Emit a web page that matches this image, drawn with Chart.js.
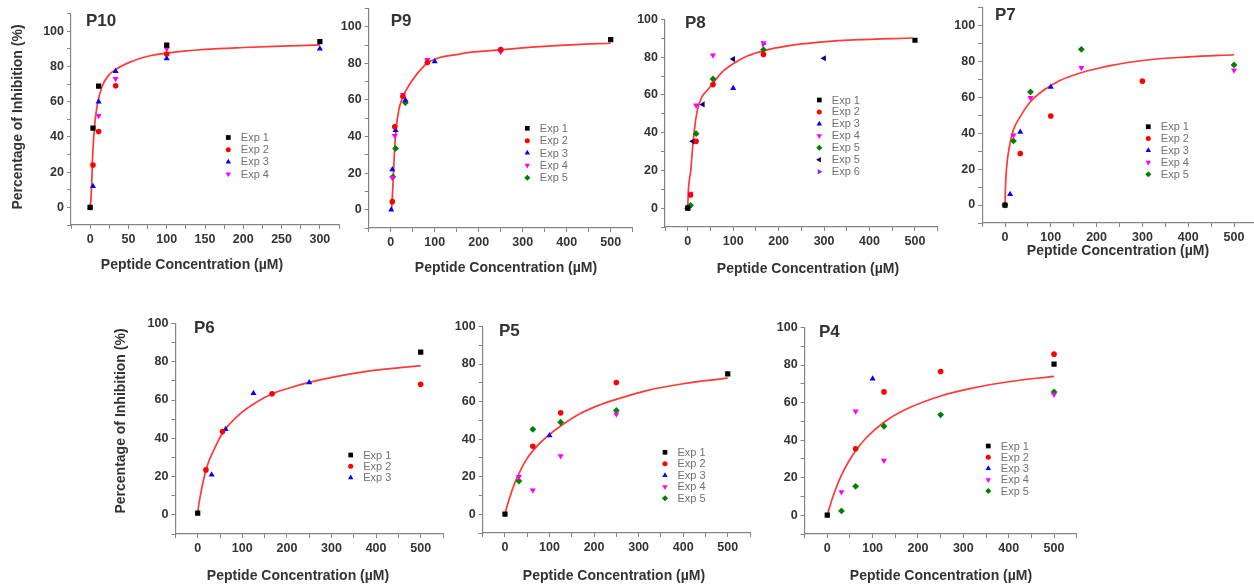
<!DOCTYPE html>
<html>
<head>
<meta charset="utf-8">
<script src="https://cdn.jsdelivr.net/npm/chart.js@4.4.1/dist/chart.umd.min.js"></script>
<style>
html, body { margin: 0; padding: 0; background: #fff; }
body { position: relative; width: 1254px; height: 588px; overflow: hidden; }
.painel { position: absolute; }
</style>
</head>
<body>
<script>
// ================================================================
// CURVAS DE INIBIÇÃO — P10 ... P4
// ================================================================

// ── Pontos experimentais [concentração µM, % inibição] ──────────
const p10_exp1 = [[0, 0], [3.7, 45], [11.1, 68.8], [100, 92], [300, 94]];
const p10_exp2 = [[3.7, 24], [11.1, 43], [33.3, 69], [100, 87]];
const p10_exp3 = [[0, 0], [3.7, 12], [11.1, 60], [33.3, 77.3], [100, 84.5], [300, 90]];
const p10_exp4 = [[0, 0], [11.1, 52], [33.3, 73], [100, 90]];

const p9_exp1 = [[500, 93]];
const p9_exp2 = [[3.7, 4.4], [9.3, 45.3], [27.8, 62], [83.3, 80.5], [250, 87.5]];
const p9_exp3 = [[1.2, 0], [3.7, 22], [11.1, 43.5], [33.3, 60], [100, 81]];
const p9_exp4 = [[3.7, 17.5], [9.3, 40.5], [27.8, 62.8], [83.3, 82], [250, 86.3]];
const p9_exp5 = [[5, 18], [11.1, 33.5], [33.3, 58.5]];

const p8_exp1  = [[0, 0], [500, 89]];
const p8_exp2  = [[6.2, 7], [18.5, 35.4], [55.6, 65.5], [166.7, 81.5]];
const p8_exp3  = [[0, 0], [100, 63.5]];
const p8_exp4  = [[6.2, 7.8], [18.5, 54.6], [55.6, 81], [166.7, 87.6]];
const p8_exp5  = [[6.2, 1.5], [18.5, 39.5], [55.6, 68.5], [166.7, 84]];
const p8_exp5b = [[0, 0], [11.1, 35.4], [33.3, 55], [100, 79], [300, 79.5]];
const p8_exp6  = [[0, 0.3], [166.7, 87]];

const p7_exp1 = [[0, 0]];
const p7_exp2 = [[33.3, 28.7], [100, 49.6], [300, 69]];
const p7_exp3 = [[11.1, 6], [33.3, 40.7], [100, 65.7]];
const p7_exp4 = [[18.5, 38.9], [55.6, 59.7], [166.7, 76.5], [500, 75]];
const p7_exp5 = [[0, 0], [18.5, 35.7], [55.6, 63], [166.7, 86.7], [500, 78]];

const p6_exp1 = [[0, 0.9], [500, 85]];
const p6_exp2 = [[18.5, 23.5], [55.6, 43.5], [166.7, 63.3], [500, 68.2]];
const p6_exp3 = [[31.25, 21], [62.5, 44.8], [125, 63.5], [250, 69.2]];

const p5_exp1 = [[0, 0], [500, 74.8]];
const p5_exp2 = [[62.5, 36.2], [125, 54], [250, 70.2]];
const p5_exp3 = [[100, 42]];
const p5_exp4 = [[31.25, 19.9], [62.5, 12.8], [125, 31], [250, 53.2]];
const p5_exp5 = [[31.25, 17.7], [62.5, 45.2], [125, 49], [250, 55.3]];

const p4_exp1 = [[0, 0], [500, 80.5]];
const p4_exp2 = [[62.5, 35.4], [125, 65.7], [250, 76.6], [500, 85.8]];
const p4_exp3 = [[100, 72.7]];
const p4_exp4 = [[31.25, 12.4], [62.5, 55.4], [125, 29.2], [500, 64.3]];
const p4_exp5 = [[31.25, 2.3], [62.5, 15.4], [125, 47.4], [250, 53.5], [500, 65.7]];

// ── Curvas ajustadas ─────────────────────────────────────────────
const p10_ajuste_x = [0, 0.9, 2.2, 3, 4.4, 6.5, 9.6, 15.2, 24, 35, 52, 74, 100, 150, 200, 250, 300];
const p10_ajuste_y = [0, 4, 15.3, 26.7, 38, 49.3, 58.8, 68.2, 74.9, 78.7, 82.4, 85.6, 87.5, 89.6, 90.7, 91.5, 92.2];
const p9_ajuste_x  = [2, 3, 6, 8.3, 12, 18, 27, 38.6, 59, 85, 112, 150, 180, 250, 330, 420, 500];
const p9_ajuste_y  = [0, 4, 17.7, 30.4, 43.2, 54, 61.4, 66.8, 74, 80.5, 83.2, 84.8, 86, 87.4, 89, 90.3, 91];
const p8_ajuste_x  = [0, 1.4, 6.6, 10.2, 14.5, 21, 31, 45, 55, 75, 100, 130, 168, 220, 290, 365, 495];
const p8_ajuste_y  = [0, 9.2, 19.8, 30.5, 41.1, 51.8, 58.8, 63, 66, 72, 76.5, 80.5, 83.5, 86, 88, 89.2, 90.2];
const p7_ajuste_x  = [0, 1, 3.6, 9.5, 18, 33, 55, 84, 120, 164, 200, 230, 300, 400, 500];
const p7_ajuste_y  = [0, 10, 21.3, 32.4, 41.7, 49.1, 57.4, 63.9, 69.4, 73.5, 75.9, 77.6, 80.5, 82.5, 83.7];
const p6_ajuste_x  = [0, 1.5, 5.2, 12.7, 20, 39, 57.5, 95, 132, 167, 207, 250, 304, 379, 454, 500];
const p6_ajuste_y  = [0.5, 3.8, 9.1, 17.8, 24.8, 35.3, 43.4, 52.8, 58.9, 63.3, 66.4, 69.2, 72, 75, 76.9, 78];
const p5_ajuste_x  = [0, 2, 11, 22.5, 34, 49, 71, 100, 125, 168, 210, 250, 320, 400, 500];
const p5_ajuste_y  = [0, 2, 9.2, 17, 23, 29.5, 36, 42.5, 47, 53.5, 58, 61.2, 66, 69.5, 72.5];
const p4_ajuste_x  = [0, 10, 20, 31, 45, 62.5, 85, 125, 170, 250, 320, 400, 500];
const p4_ajuste_y  = [0, 8.1, 14.9, 21.2, 27.7, 34.3, 41, 49.5, 56, 63.5, 67.7, 71.1, 74];

// ── Estilos das séries ───────────────────────────────────────────
const estilos = {
    exp1:  { rotulo: 'Exp 1', cor: '#000000', forma: 'rect',     rot: 0,   raio: 3.7 },
    exp2:  { rotulo: 'Exp 2', cor: '#ff0000', forma: 'circle',   rot: 0,   raio: 2.8 },
    exp3:  { rotulo: 'Exp 3', cor: '#0000ff', forma: 'triangle', rot: 0,   raio: 3.5 },
    exp4:  { rotulo: 'Exp 4', cor: '#ff00ff', forma: 'triangle', rot: 180, raio: 3.5 },
    exp5:  { rotulo: 'Exp 5', cor: '#008000', forma: 'rectRot',  rot: 0,   raio: 3.4 },
    exp5b: { rotulo: 'Exp 5', cor: '#000080', forma: 'triangle', rot: -90, raio: 3.5 },
    exp6:  { rotulo: 'Exp 6', cor: '#8a2be2', forma: 'triangle', rot: 90,  raio: 3.5 }
};

const FONTE    = '"Liberation Sans", Arial, sans-serif';
const TITULO_X = 'Peptide Concentration (µM)';
const TITULO_Y = 'Percentage of Inhibition (%)';

// area = posição do chartArea na página; rotulo/tituloX/tituloY/legenda em px da página
const paineis = [
    { nome: 'P10', series: [['exp1', p10_exp1], ['exp2', p10_exp2], ['exp3', p10_exp3], ['exp4', p10_exp4]],
      ajuste: [p10_ajuste_x, p10_ajuste_y], x: [-25, 325, 25, 50], y: [-10, 110],
      area: { l: 71, t: 13.1, r: 339, b: 224.6 }, yW: 66,
      rotulo: [86, 21], tituloX: [192, 265], tituloY: [18, 117], legenda: [228.3, 137.5, 12.2] },
    { nome: 'P9', series: [['exp1', p9_exp1], ['exp2', p9_exp2], ['exp3', p9_exp3], ['exp4', p9_exp4], ['exp5', p9_exp5]],
      ajuste: [p9_ajuste_x, p9_ajuste_y], x: [-50, 550, 50, 100], y: [-10, 110],
      area: { l: 368.7, t: 7.7, r: 632.7, b: 227.3 }, yW: 42,
      rotulo: [390.7, 21], tituloX: [506, 268], tituloY: null, legenda: [527.3, 128.3, 12.35] },
    { nome: 'P8', series: [['exp1', p8_exp1], ['exp2', p8_exp2], ['exp3', p8_exp3], ['exp4', p8_exp4],
                           ['exp5', p8_exp5], ['exp5b', p8_exp5b], ['exp6', p8_exp6]],
      ajuste: [p8_ajuste_x, p8_ajuste_y], x: [-50, 550, 50, 100], y: [-10, 100],
      area: { l: 665, t: 19.3, r: 937.7, b: 226.1 }, yW: 42,
      rotulo: [685, 23], tituloX: [808, 269], tituloY: null, legenda: [819.3, 100, 11.95] },
    { nome: 'P7', series: [['exp1', p7_exp1], ['exp2', p7_exp2], ['exp3', p7_exp3], ['exp4', p7_exp4], ['exp5', p7_exp5]],
      ajuste: [p7_ajuste_x, p7_ajuste_y], x: [-50, 550, 50, 100], y: [-10, 110],
      area: { l: 982.1, t: 7, r: 1256.9, b: 223 }, yW: 42,
      rotulo: [995, 15], tituloX: [1118, 251], tituloY: null, legenda: [1148.3, 126.7, 11.9] },
    { nome: 'P6', series: [['exp1', p6_exp1], ['exp2', p6_exp2], ['exp3', p6_exp3]],
      ajuste: [p6_ajuste_x, p6_ajuste_y], x: [-50, 550, 50, 100], y: [-10, 100],
      area: { l: 175.4, t: 323.3, r: 443, b: 533.1 }, yW: 66,
      rotulo: [194, 328.5], tituloX: [298, 576.5], tituloY: [121, 421], legenda: [350.7, 455, 11.35] },
    { nome: 'P5', series: [['exp1', p5_exp1], ['exp2', p5_exp2], ['exp3', p5_exp3], ['exp4', p5_exp4], ['exp5', p5_exp5]],
      ajuste: [p5_ajuste_x, p5_ajuste_y], x: [-50, 550, 50, 100], y: [-10, 100],
      area: { l: 482.7, t: 326, r: 750, b: 532.8 }, yW: 42,
      rotulo: [499, 331.5], tituloX: [614, 576.5], tituloY: null, legenda: [665, 452.3, 11.5] },
    { nome: 'P4', series: [['exp1', p4_exp1], ['exp2', p4_exp2], ['exp3', p4_exp3], ['exp4', p4_exp4], ['exp5', p4_exp5]],
      ajuste: [p4_ajuste_x, p4_ajuste_y], x: [-50, 550, 50, 100], y: [-10, 100],
      area: { l: 804.6, t: 326.7, r: 1076.7, b: 533.8 }, yW: 42,
      rotulo: [819, 332], tituloX: [941, 576.5], tituloY: null, legenda: [988.3, 446, 11.25] }
];

const COR_EIXO = '#858585';
const COR_TEXTO = '#333333';

function desenharPonto(ctx, e, x, y) {
    const opts = { pointStyle: e.forma, rotation: e.rot, radius: e.raio * 0.9, borderWidth: 0 };
    if (Chart.helpers && Chart.helpers.drawPoint) { Chart.helpers.drawPoint(ctx, opts, x, y); return; }
    ctx.beginPath(); ctx.arc(x, y, opts.radius, 0, Math.PI * 2); ctx.fill();
}

function criarDecoracao(p, caixa) {
    return {
        id: 'decoracao_' + p.nome,
        afterDatasetsDraw(chart) {
            const ctx = chart.ctx;
            const ox = caixa.left, oy = caixa.top;
            ctx.save();
            ctx.fillStyle = COR_TEXTO;
            ctx.textBaseline = 'middle';

            ctx.font = 'bold 17px ' + FONTE;
            ctx.textAlign = 'left';
            ctx.fillText(p.nome, p.rotulo[0] - ox, p.rotulo[1] - oy);

            ctx.font = 'bold 14px ' + FONTE;
            ctx.textAlign = 'center';
            ctx.fillText(TITULO_X, p.tituloX[0] - ox, p.tituloX[1] - oy);
            if (p.tituloY) {
                ctx.save();
                ctx.translate(p.tituloY[0] - ox, p.tituloY[1] - oy);
                ctx.rotate(-Math.PI / 2);
                ctx.fillText(TITULO_Y, 0, 0);
                ctx.restore();
            }

            // legenda dentro da área do gráfico
            const [lx, ly, passo] = p.legenda;
            ctx.font = '11px ' + FONTE;
            ctx.textAlign = 'left';
            p.series.forEach(([chave], i) => {
                const e = estilos[chave];
                const x = lx - ox, y = ly + i * passo - oy;
                ctx.fillStyle = e.cor;
                ctx.strokeStyle = e.cor;
                desenharPonto(ctx, e, x, y);
                ctx.fillStyle = '#707070';
                ctx.fillText(e.rotulo, x + 12.5, y + 0.5);
            });
            ctx.restore();
        }
    };
}

const PAD_T = 10;

paineis.forEach(p => {
    const a = p.area;
    const left = Math.round(a.l - p.yW);
    const top  = Math.round(a.t - PAD_T);
    const yW   = a.l - left;
    const padT = a.t - top;
    const width  = Math.ceil(a.r - left + 10);
    const padR   = width - (a.r - left);
    const xH     = 58;
    const height = Math.ceil(a.b - top + xH);
    const caixa = { left, top };

    const div = document.createElement('div');
    div.className = 'painel';
    div.style.left = left + 'px';
    div.style.top = top + 'px';
    div.style.width = width + 'px';
    div.style.height = height + 'px';
    const canvas = document.createElement('canvas');
    div.appendChild(canvas);
    document.body.appendChild(div);

    const datasets = p.series.map(([chave, dados]) => {
        const e = estilos[chave];
        return {
            label: e.rotulo,
            data: dados.map(([x, y]) => ({ x, y })),
            pointStyle: e.forma,
            pointRotation: e.rot,
            pointRadius: e.raio,
            pointBackgroundColor: e.cor,
            pointBorderColor: e.cor,
            pointBorderWidth: 0,
            showLine: false,
            order: 0
        };
    });
    const [ax, ay] = p.ajuste;
    datasets.push({
        label: 'ajuste',
        data: ax.map((x, i) => ({ x, y: ay[i] })),
        showLine: true,
        pointRadius: 0,
        borderColor: '#ff3838',
        borderWidth: 1.7,
        cubicInterpolationMode: 'monotone',
        fill: false,
        order: 1
    });

    const [xMin, xMax, xPasso, xRot] = p.x;
    const [yMin, yMax] = p.y;
    const fonteTicks = { family: FONTE, size: 12.5, weight: 'bold' };

    new Chart(canvas, {
        type: 'scatter',
        data: { datasets },
        options: {
            responsive: true,
            maintainAspectRatio: false,
            animation: false,
            layout: { padding: { top: padT, right: padR, left: 0, bottom: 0 } },
            plugins: { legend: { display: false }, tooltip: { enabled: false } },
            scales: {
                x: {
                    type: 'linear', min: xMin, max: xMax,
                    afterFit: s => { s.height = xH; },
                    border: { display: true, color: COR_EIXO, width: 1.2 },
                    grid: { drawOnChartArea: false, drawTicks: true, tickLength: 4, color: COR_EIXO, lineWidth: 1 },
                    ticks: {
                        stepSize: xPasso, autoSkip: false, maxRotation: 0, minRotation: 0, padding: 3,
                        color: COR_TEXTO, font: fonteTicks,
                        callback: v => (v >= 0 && v % xRot === 0) ? String(v) : ''
                    }
                },
                y: {
                    type: 'linear', min: yMin, max: yMax,
                    afterFit: s => { s.width = yW; },
                    border: { display: true, color: COR_EIXO, width: 1.2 },
                    grid: { drawOnChartArea: false, drawTicks: true, tickLength: 4, color: COR_EIXO, lineWidth: 1 },
                    ticks: {
                        stepSize: 10, autoSkip: false, padding: 3,
                        color: COR_TEXTO, font: fonteTicks,
                        callback: v => (v >= 0 && v % 20 === 0) ? String(v) : ''
                    }
                }
            }
        },
        plugins: [criarDecoracao(p, caixa)]
    });
});
</script>
</body>
</html>
